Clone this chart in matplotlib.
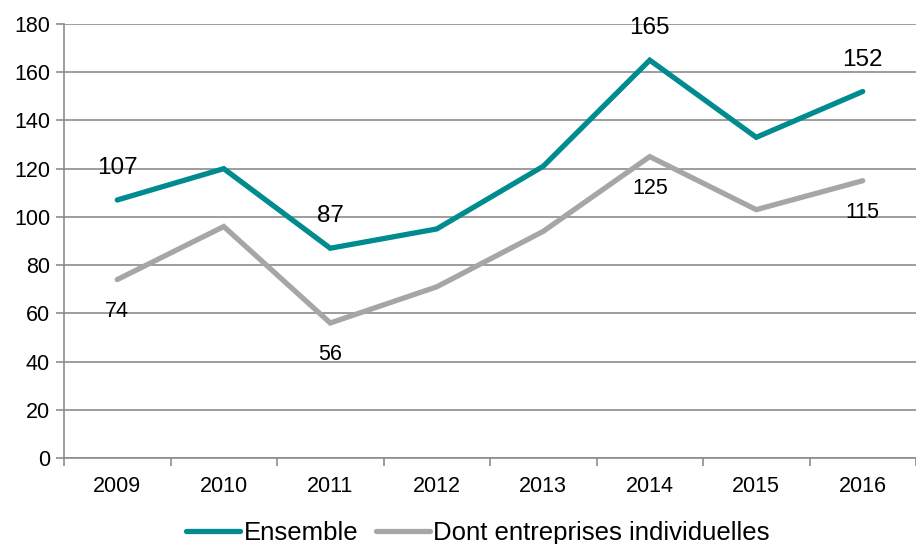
import matplotlib.pyplot as plt
import numpy as np

plt.rcParams['font.family'] = ['Liberation Sans', 'DejaVu Sans']

# Données
annees = ['2009', '2010', '2011', '2012', '2013', '2014', '2015', '2016']
ensemble = [107, 120, 87, 95, 121, 165, 133, 152]
individuelles = [74, 96, 56, 71, 94, 125, 103, 115]

# Étiquettes affichées (index des points)
lab_ensemble = [0, 2, 5, 7]
lab_indiv = [0, 2, 5, 7]

teal = '#008C8F'
gris = '#A6A6A6'
grille = '#8C8C8C'

fig = plt.figure(figsize=(9.16, 5.44), dpi=100)
ax = fig.add_axes([64 / 916, 86 / 544, 852 / 916, 434 / 544])

x = np.arange(len(annees))
ax.plot(x, ensemble, color=teal, lw=3.8, solid_capstyle='round', solid_joinstyle='miter',
        label='Ensemble', zorder=3)
ax.plot(x, individuelles, color=gris, lw=3.8, solid_capstyle='round', solid_joinstyle='miter',
        label='Dont entreprises individuelles', zorder=3)

for i in lab_ensemble:
    ax.annotate(str(ensemble[i]), (x[i], ensemble[i]), xytext=(0, 23), textcoords='offset points',
                ha='center', va='center', fontsize=17.5)
for i in lab_indiv:
    ax.annotate(str(individuelles[i]), (x[i], individuelles[i]), xytext=(0, -23),
                textcoords='offset points', ha='center', va='center', fontsize=15.5)

ax.set_ylim(0, 180)
ax.set_yticks(np.arange(0, 181, 20))
ax.set_xlim(-0.5, 7.5 - 8 / 107.4)
ax.set_xticks(x)
ax.set_xticklabels(annees)
ax.set_xticks(np.arange(-0.5, 7.6, 1), minor=True)
ax.tick_params(axis='x', which='major', length=0, pad=13, labelsize=15.5)
ax.tick_params(axis='x', which='minor', length=6, width=1.2, color=grille)
ax.tick_params(axis='y', length=6, width=1.2, color=grille, labelsize=15.5, pad=4)

ax.grid(axis='y', color=grille, lw=1.2)
ax.set_axisbelow(True)
for s in ['top', 'right']:
    ax.spines[s].set_visible(False)
for s in ['left', 'bottom']:
    ax.spines[s].set_color(grille)
    ax.spines[s].set_linewidth(1.2)

fig.legend(*ax.get_legend_handles_labels(), loc='center', bbox_to_anchor=(478 / 916, 1 - 533 / 544),
           ncol=2, frameon=False, fontsize=18.5, handlelength=2.1, handletextpad=0.12,
           columnspacing=0.7, borderpad=0, borderaxespad=0)

fig.savefig('out.png', dpi=100)
